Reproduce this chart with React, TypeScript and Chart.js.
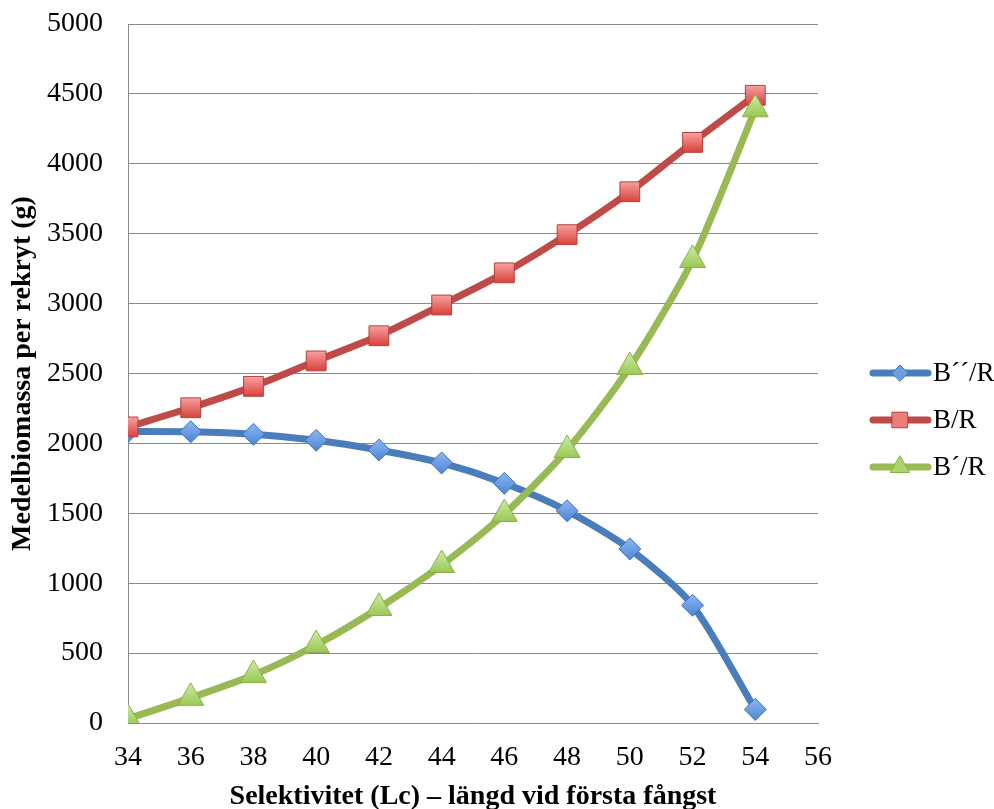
import React, { useEffect, useRef } from "react";
import { Chart, registerables } from "chart.js";
import { drawPoint } from "chart.js/helpers";

Chart.register(...registerables);

const xValues = [34, 36, 38, 40, 42, 44, 46, 48, 50, 52, 54];
const seriesLabels = ["B´´/R", "B/R", "B´/R"];
const bppR = [2085, 2083, 2065, 2022, 1953, 1860, 1715, 1518, 1245, 842, 97];
const bR = [2118, 2255, 2408, 2590, 2770, 2990, 3220, 3493, 3800, 4153, 4490];
const bpR = [30, 180, 343, 558, 823, 1130, 1495, 1953, 2546, 3312, 4390];
const yTitle = "Medelbiomassa per rekryt (g)";
const xTitle = "Selektivitet (Lc) – längd vid första fångst";

const FONT = "'Liberation Serif', 'Times New Roman', serif";

function gradientFill(top: string, bottom: string, r: number) {
  return (ctx: any) => {
    if (ctx.type !== "data" || !ctx.parsed) return top;
    const chart = ctx.chart;
    const ys = chart.scales && chart.scales.y;
    if (!ys) return top;
    const y = ys.getPixelForValue(ctx.parsed.y);
    if (!isFinite(y)) return top;
    const g = chart.ctx.createLinearGradient(0, y - r, 0, y + r);
    g.addColorStop(0, top);
    g.addColorStop(1, bottom);
    return g;
  };
}

const legendPlugin = {
  id: "customLegend",
  afterDraw(chart: any) {
    const ctx = chart.ctx;
    const rows = [373, 420, 467];
    const sizes = [8, 11, 11];
    chart.data.datasets.forEach((ds: any, i: number) => {
      const y = rows[i];
      ctx.save();
      ctx.strokeStyle = ds.borderColor;
      ctx.lineWidth = 7;
      ctx.lineCap = "round";
      ctx.beginPath();
      ctx.moveTo(873, y);
      ctx.lineTo(928, y);
      ctx.stroke();
      ctx.fillStyle = ds.legendFill;
      ctx.strokeStyle = ds.pointBorderColor;
      ctx.lineWidth = 1;
      drawPoint(ctx, { pointStyle: ds.pointStyle, radius: sizes[i], borderWidth: 1, rotation: 0 }, 900, y);
      ctx.fillStyle = "#000";
      ctx.font = "27px " + FONT;
      ctx.textBaseline = "middle";
      ctx.textAlign = "left";
      ctx.fillText(ds.label, 933, y + 1);
      ctx.restore();
    });
  },
};

export default function App() {
  const ref = useRef<HTMLCanvasElement | null>(null);
  useEffect(() => {
    document.body.style.margin = "0";
    if (!ref.current) return;
    const mk = (vals: number[]) => vals.map((v, i) => ({ x: xValues[i], y: v }));
    const chart = new Chart(ref.current, {
      type: "line",
      data: {
        datasets: [
          {
            label: seriesLabels[0],
            data: mk(bppR),
            borderColor: "#4A7EBB",
            borderWidth: 7,
            tension: 0.25,
            pointStyle: "rectRot",
            pointRadius: 11,
            pointBorderColor: "#3F72B8",
            pointBorderWidth: 1,
            pointBackgroundColor: gradientFill("#8DB6F0", "#4C86D6", 11),
            legendFill: "#6C9EE4",
            order: 3,
          } as any,
          {
            label: seriesLabels[1],
            data: mk(bR),
            borderColor: "#BE4B48",
            borderWidth: 7,
            tension: 0.25,
            pointStyle: "rect",
            pointRadius: 14,
            pointBorderColor: "#B83F3B",
            pointBorderWidth: 1,
            pointBackgroundColor: gradientFill("#F6A3A0", "#D9403A", 10),
            legendFill: "#EC7E7A",
            order: 2,
          } as any,
          {
            label: seriesLabels[2],
            data: mk(bpR),
            borderColor: "#98B954",
            borderWidth: 7,
            tension: 0.25,
            pointStyle: "triangle",
            pointRadius: 15,
            pointBorderColor: "#8BB046",
            pointBorderWidth: 1,
            pointBackgroundColor: gradientFill("#C6E89A", "#8FC046", 12),
            legendFill: "#A8D46C",
            order: 1,
          } as any,
        ],
      },
      options: {
        animation: false,
        responsive: false,
        maintainAspectRatio: false,
        layout: { padding: { left: 0, right: 176, top: 24, bottom: 0 } },
        plugins: {
          legend: { display: false },
          tooltip: { enabled: false },
        },
        scales: {
          x: {
            type: "linear",
            min: 34,
            max: 56,
            ticks: {
              stepSize: 2,
              color: "#000",
              font: { family: FONT, size: 28 },
              padding: 18,
              callback: (v: any) => String(v),
            },
            grid: { display: false, drawTicks: false },
            border: { display: true, color: "#8a8a8a", width: 1 },
            title: {
              display: true,
              text: xTitle,
              color: "#000",
              font: { family: FONT, size: 28, weight: "bold", lineHeight: 0.9 },
              padding: { top: 0, bottom: 0 },
            },
            afterFit(scale: any) {
              scale.height = 86;
            },
          },
          y: {
            min: 0,
            max: 5000,
            ticks: {
              stepSize: 500,
              color: "#000",
              font: { family: FONT, size: 28 },
              padding: 0,
              callback: (v: any) => String(v),
            },
            grid: {
              color: "#8a8a8a",
              lineWidth: 1,
              drawTicks: true,
              tickLength: 25,
              tickColor: "rgba(0,0,0,0)",
            },
            border: { display: true, color: "#8a8a8a", width: 1 },
            title: {
              display: true,
              text: yTitle,
              color: "#000",
              font: { family: FONT, size: 28, weight: "bold", lineHeight: 1.2 },
              padding: { top: 6, bottom: 0 },
            },
            afterFit(scale: any) {
              scale.width = 128;
            },
          },
        },
      } as any,
      plugins: [legendPlugin],
    });
    return () => chart.destroy();
  }, []);
  return (
    <div style={{ width: 994, height: 809 }}>
      <canvas ref={ref} width={994} height={809} style={{ display: "block" }} />
    </div>
  );
}
